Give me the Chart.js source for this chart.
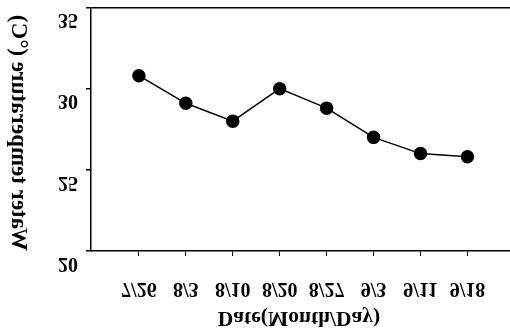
<!DOCTYPE html>
<html>
<head>
<meta charset="utf-8">
<script src="https://cdn.jsdelivr.net/npm/chart.js@4"></script>
<style>
  html, body { margin: 0; padding: 0; background: #fff; overflow: hidden; }
  #wrap { width: 510px; height: 334px; overflow: hidden; }
</style>
</head>
<body>
<div id="wrap"><canvas id="chart" width="520" height="334"></canvas></div>
<script>
// values
const dateLabels = ['7/26', '8/3', '8/10', '8/20', '8/27', '9/3', '9/11', '9/18'];
const waterTemp = [30.8, 29.1, 28.0, 30.0, 28.8, 27.0, 26.0, 25.8];
const yTickValues = [20, 25, 30, 35];
const xTitle = 'Date(Month/Day)';
const yTitle = 'Water temperature (°C)';

const SERIF = '"Liberation Serif", "Times New Roman", serif';

// the labels in the picture are upside down, each one flipped about its own line
function drawFlipped(ctx, text, x, y, rotation, align) {
    ctx.save();
    ctx.translate(x, y);
    if (rotation) ctx.rotate(rotation);
    ctx.scale(1, -1);
    ctx.textAlign = align || 'center';
    ctx.textBaseline = 'middle';
    ctx.fillText(text, 0, 0);
    ctx.restore();
}

const flippedLabels = {
    id: 'flippedLabels',
    afterDraw(chart) {
        const { ctx, scales } = chart;
        ctx.save();
        ctx.fillStyle = '#000';

        ctx.font = 'bold 20px ' + SERIF;
        // x tick labels
        dateLabels.forEach((lbl, i) => {
            drawFlipped(ctx, lbl, scales.x.getPixelForValue(i), 288, 0, 'center');
        });
        // y tick labels
        yTickValues.forEach(v => {
            drawFlipped(ctx, String(v), 78, scales.y.getPixelForValue(v) + 12, 0, 'right');
        });

        // axis titles
        ctx.font = 'bold 21.5px ' + SERIF;
        drawFlipped(ctx, xTitle, 299, 318, 0, 'center');
        ctx.font = 'bold 23px ' + SERIF;
        drawFlipped(ctx, yTitle, 18, 133, -Math.PI / 2, 'center');
        ctx.restore();
    }
};

new Chart(document.getElementById('chart'), {
    type: 'line',
    data: {
        datasets: [{
            data: waterTemp.map((v, i) => ({ x: i, y: v })),
            borderColor: '#000',
            borderWidth: 1.5,
            backgroundColor: '#000',
            pointBackgroundColor: '#000',
            pointBorderColor: '#000',
            pointRadius: 6,
            pointHoverRadius: 6,
            tension: 0,
            fill: false
        }]
    },
    options: {
        responsive: false,
        devicePixelRatio: 1,
        animation: false,
        layout: { padding: { left: 86, right: 0, top: 0, bottom: 78 } },
        plugins: {
            legend: { display: false },
            tooltip: { enabled: false }
        },
        scales: {
            x: {
                type: 'linear',
                min: -1.02,
                max: 7.96,
                afterBuildTicks: scale => {
                    scale.ticks = dateLabels.map((_, i) => ({ value: i }));
                },
                ticks: { display: false },
                grid: {
                    drawOnChartArea: false,
                    drawTicks: true,
                    tickLength: 5,
                    tickColor: '#000',
                    lineWidth: 1
                },
                border: { color: '#000', width: 1.5 }
            },
            y: {
                min: 20,
                max: 35,
                afterBuildTicks: scale => {
                    scale.ticks = yTickValues.map(v => ({ value: v }));
                },
                ticks: { display: false },
                grid: {
                    drawOnChartArea: true,
                    drawTicks: true,
                    tickLength: 5,
                    // only the top line (35) runs across the plot
                    color: c => (c.tick && c.tick.value === 35) ? '#000' : 'rgba(0,0,0,0)',
                    tickColor: '#000',
                    lineWidth: 1.5
                },
                border: { color: '#000', width: 1.5 }
            }
        }
    },
    plugins: [flippedLabels]
});
</script>
</body>
</html>
